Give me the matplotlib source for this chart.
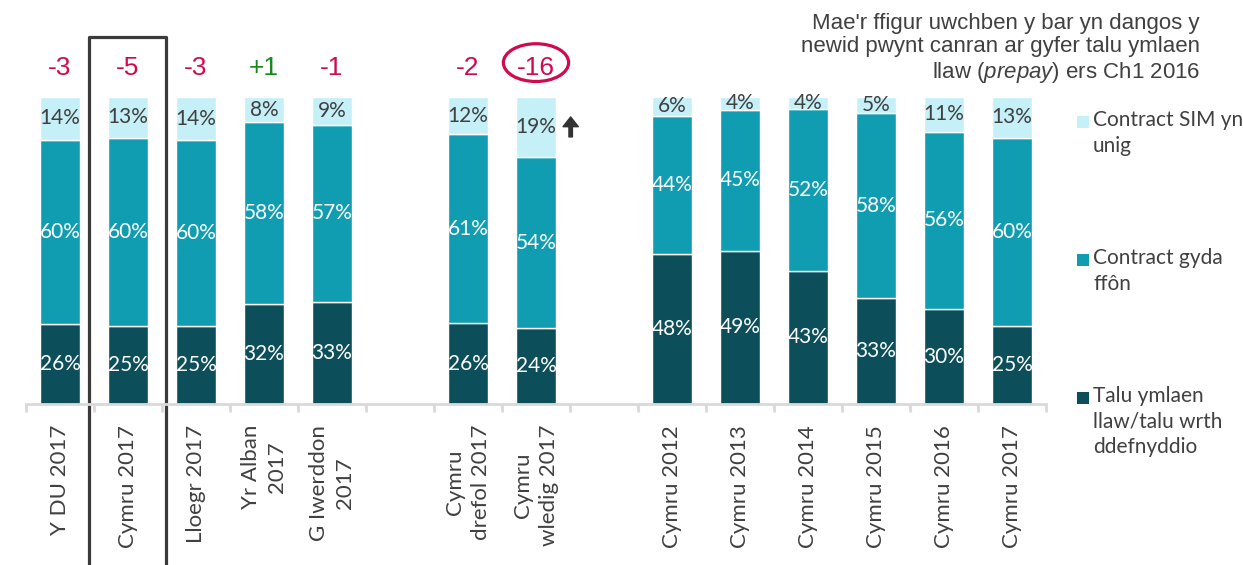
import numpy as np
import matplotlib.pyplot as plt
from matplotlib.patches import Rectangle, Ellipse

plt.rcParams['font.family'] = ['Lato', 'DejaVu Sans']
plt.rcParams['mathtext.fontset'] = 'custom'
plt.rcParams['mathtext.rm'] = 'Liberation Sans'
plt.rcParams['mathtext.it'] = 'Liberation Sans:italic'

# ===== data (nan = empty gap slot)
labels = ['Y DU 2017', 'Cymru 2017', 'Lloegr 2017', 'Yr Alban\n2017', 'G Iwerddon\n2017', '',
          'Cymru\ndrefol 2017', 'Cymru\nwledig 2017', '',
          'Cymru 2012', 'Cymru 2013', 'Cymru 2014', 'Cymru 2015', 'Cymru 2016', 'Cymru 2017']
prepay   = [26, 25, 25, 32, 33, np.nan, 26, 24, np.nan, 48, 49, 43, 33, 30, 25]
contract = [60, 60, 60, 58, 57, np.nan, 61, 54, np.nan, 44, 45, 52, 58, 56, 60]
sim_only = [14, 13, 14, 8, 9, np.nan, 12, 19, np.nan, 6, 4, 4, 5, 11, 13]
changes  = ['-3', '-5', '-3', '+1', '-1', '', '-2', '-16', '', '', '', '', '', '', '']

series_names = ['Contract SIM yn\nunig', 'Contract gyda\nffôn', 'Talu ymlaen\nllaw/talu wrth\nddefnyddio']
colors = ['#C5F0F7', '#119DB1', '#0C4F5A']
text_grey = '#404040'
red = '#D1094F'
green = '#16891A'

W, H = 1243, 565
fig = plt.figure(figsize=(W / 100, H / 100), dpi=100)
ax = fig.add_axes([26 / W, 1 - 404 / H, 1020 / W, 307 / H])

x = np.arange(len(labels))
prepay = np.array(prepay, dtype=float)
contract = np.array(contract, dtype=float)
sim_only = np.array(sim_only, dtype=float)
# bars are drawn as shares of 100 (shown labels are rounded)
total = prepay + contract + sim_only
p = prepay / total * 100
c = contract / total * 100
s = sim_only / total * 100

bw = 0.6
ax.bar(x, p, bw, color=colors[2], edgecolor='white', linewidth=1)
ax.bar(x, c, bw, bottom=p, color=colors[1], edgecolor='white', linewidth=1)
ax.bar(x, s, bw, bottom=p + c, color=colors[0], edgecolor='white', linewidth=1)

fs = 15
for i in range(len(x)):
    if np.isnan(total[i]):
        continue
    ax.text(i, p[i] / 2, '%d%%' % prepay[i], ha='center', va='center', color='white', fontsize=fs)
    ax.text(i, p[i] + c[i] / 2, '%d%%' % contract[i], ha='center', va='center', color='white', fontsize=fs)
    ax.text(i, p[i] + c[i] + s[i] / 2, '%d%%' % sim_only[i], ha='center', va='center', color=text_grey, fontsize=fs)
    if changes[i]:
        ax.text(i, 109.6, changes[i], ha='center', va='center', fontsize=19,
                color=green if changes[i].startswith('+') else red, family='Liberation Sans')

# circle round -16
ax.add_patch(Ellipse((7, 111.2), 0.96, 12.3, fill=False, edgecolor=red, linewidth=2.3, clip_on=False))

# arrow next to rural Wales
ax.annotate('', xy=(7.51, 93.5), xytext=(7.51, 87.0),
            arrowprops=dict(facecolor='#333333', edgecolor='#333333', width=2.5, headwidth=11, headlength=7),
            annotation_clip=False)

# box round Cymru 2017
ax.add_patch(Rectangle((0.43, -70), 1.13, 189.5, fill=False, edgecolor='#3A3A3A', linewidth=2.3,
                       clip_on=False, joinstyle='round'))

ax.set_xlim(-0.5, len(x) - 0.5)
ax.set_ylim(0, 100)
for sp in ['top', 'right', 'left']:
    ax.spines[sp].set_visible(False)
ax.spines['bottom'].set_color('#D9D9D9')
ax.spines['bottom'].set_linewidth(2)
ax.set_yticks([])
ax.set_xticks(x)
ax.set_xticklabels(labels, rotation=90, ha='center', va='top', fontsize=16, color=text_grey,
                   multialignment='center', linespacing=1.35)
ax.tick_params(axis='x', which='major', length=0, pad=15)
ax.set_xticks(np.arange(-0.5, len(x), 1), minor=True)
ax.tick_params(axis='x', which='minor', length=6, width=2, color='#D9D9D9')

# note at top right
fig.text(1200 / W, 1 - 13 / H,
         "Mae'r ffigur uwchben y bar yn dangos y\nnewid pwynt canran ar gyfer talu ymlaen\n"
         "llaw ($\\mathit{prepay}$) ers Ch1 2016",
         ha='right', va='top', fontsize=16, color=text_grey, family='Liberation Sans',
         linespacing=1.15)

# legend
leg_y = [122, 260, 398]
for name, col, yy in zip(series_names, colors, leg_y):
    fig.add_artist(Rectangle((1077 / W, 1 - (yy + 6) / H), 12 / W, 12 / H, transform=fig.transFigure,
                             facecolor=col, edgecolor='none'))
    fig.text(1093 / W, 1 - (yy - 12) / H, name, ha='left', va='top', fontsize=fs, color=text_grey,
             linespacing=1.35)

plt.savefig('out.png', dpi=100)
